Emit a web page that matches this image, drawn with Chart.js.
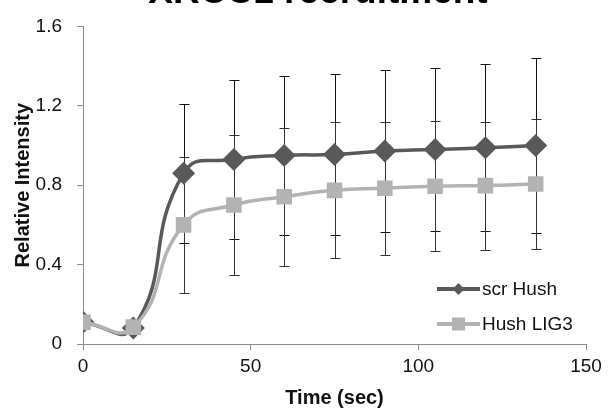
<!DOCTYPE html>
<html>
<head>
<meta charset="utf-8">
<script src="https://cdn.jsdelivr.net/npm/chart.js@4/dist/chart.umd.min.js"></script>
<style>
  html, body { margin: 0; padding: 0; background: #ffffff; }
  #wrap { width: 608px; height: 411px; position: relative; }
</style>
</head>
<body>
<div id="wrap"><canvas id="c" width="608" height="411"></canvas></div>
<script>
// Time points (sec)
const timePoints = [0, 15, 30, 45, 60, 75, 90, 105, 120, 135];

// Mean relative intensity per series
const scrHush = [0.11, 0.08, 0.86, 0.93, 0.95, 0.955, 0.972, 0.98, 0.989, 1.00];
const hushLig3 = [0.11, 0.085, 0.60, 0.70, 0.742, 0.774, 0.785, 0.795, 0.798, 0.806];

// Error (± SD) per series
const scrHushErr = [0.0, 0.0, 0.35, 0.40, 0.40, 0.405, 0.41, 0.41, 0.42, 0.44];
const hushLig3Err = [0.0, 0.0, 0.342, 0.352, 0.347, 0.343, 0.335, 0.328, 0.322, 0.328];

const yTicks = [0, 0.4, 0.8, 1.2, 1.6];
const xTicks = [0, 50, 100, 150];

const seriesNames = ['scr Hush', 'Hush LIG3'];
const titleText = 'XRCC1 recruitment';
const xTitle = 'Time (sec)';
const yTitle = 'Relative Intensity';

const DARK = '#595959';
const LIGHT = '#b3b3b3';

function toPoints(xs, ys) {
  return xs.map((x, i) => ({ x: x, y: ys[i] }));
}

// Vertical error bars with caps, drawn from the data arrays through the scales
const errorBars = {
  id: 'errorBars',
  beforeDatasetsDraw(chart) {
    const { ctx, scales: { x, y } } = chart;
    const sets = [
      { means: scrHush, errs: scrHushErr, color: '#111111' },
      { means: hushLig3, errs: hushLig3Err, color: '#333333' }
    ];
    ctx.save();
    ctx.lineWidth = 1;
    sets.forEach(s => {
      ctx.strokeStyle = s.color;
      timePoints.forEach((t, i) => {
        const e = s.errs[i];
        if (!e) return;
        const px = Math.round(x.getPixelForValue(t)) + 0.5;
        const top = Math.round(y.getPixelForValue(s.means[i] + e)) + 0.5;
        const bot = Math.round(y.getPixelForValue(s.means[i] - e)) + 0.5;
        ctx.beginPath();
        ctx.moveTo(px, top); ctx.lineTo(px, bot);
        ctx.moveTo(px - 5, top); ctx.lineTo(px + 5, top);
        ctx.moveTo(px - 5, bot); ctx.lineTo(px + 5, bot);
        ctx.stroke();
      });
    });
    ctx.restore();
  }
};

// Chart title, set high so it runs off the top edge
const topTitle = {
  id: 'topTitle',
  afterDraw(chart) {
    const { ctx, chartArea } = chart;
    ctx.save();
    ctx.font = 'bold 37px "Liberation Sans", Arial, sans-serif';
    ctx.fillStyle = '#000000';
    ctx.textAlign = 'center';
    ctx.textBaseline = 'alphabetic';
    ctx.fillText(titleText, chartArea.left + 235, 3);
    ctx.restore();
  }
};

// Legend placed inside the plot, lower right
const insideLegend = {
  id: 'insideLegend',
  afterDraw(chart) {
    const { ctx, chartArea } = chart;
    const items = [
      { label: seriesNames[0], color: DARK, marker: 'diamond' },
      { label: seriesNames[1], color: LIGHT, marker: 'square' }
    ];
    const x0 = chartArea.right - 149;
    let yc = chartArea.bottom - 55;
    ctx.save();
    ctx.font = '19px "Liberation Sans", Arial, sans-serif';
    ctx.textBaseline = 'middle';
    items.forEach(it => {
      ctx.strokeStyle = it.color;
      ctx.lineWidth = 4;
      ctx.beginPath();
      ctx.moveTo(x0, yc); ctx.lineTo(x0 + 43, yc);
      ctx.stroke();
      ctx.fillStyle = it.color;
      const mx = x0 + 21.5;
      if (it.marker === 'diamond') {
        ctx.beginPath();
        ctx.moveTo(mx, yc - 6); ctx.lineTo(mx + 6, yc);
        ctx.lineTo(mx, yc + 6); ctx.lineTo(mx - 6, yc);
        ctx.closePath(); ctx.fill();
      } else {
        ctx.fillRect(mx - 6.5, yc - 6.5, 13, 13);
      }
      ctx.fillStyle = '#111111';
      ctx.fillText(it.label, x0 + 45, yc + 1);
      yc += 35;
    });
    ctx.restore();
  }
};

new Chart(document.getElementById('c'), {
  type: 'line',
  data: {
    datasets: [
      {
        label: seriesNames[1],
        data: toPoints(timePoints, hushLig3),
        borderColor: LIGHT,
        backgroundColor: LIGHT,
        borderWidth: 3.5,
        pointStyle: 'rect',
        pointRadius: 11,
        pointBorderWidth: 0,
        tension: 0.5
      },
      {
        label: seriesNames[0],
        data: toPoints(timePoints, scrHush),
        borderColor: DARK,
        backgroundColor: DARK,
        borderWidth: 3.5,
        pointStyle: 'rectRot',
        pointRadius: 11.5,
        pointBorderWidth: 0,
        tension: 0.5
      }
    ]
  },
  options: {
    responsive: false,
    animation: false,
    devicePixelRatio: 1,
    layout: { padding: { top: 23, right: 22, left: 0, bottom: 0 } },
    plugins: {
      legend: { display: false },
      title: { display: false },
      tooltip: { enabled: false }
    },
    scales: {
      x: {
        type: 'linear',
        min: 0, max: 150,
        afterBuildTicks(axis) { axis.ticks = xTicks.map(v => ({ value: v })); },
        afterFit(axis) { axis.height = 67; },
        border: { display: true, color: '#8c8c8c', width: 1 },
        grid: { display: true, drawOnChartArea: false, drawTicks: true, tickLength: 6, color: '#8c8c8c' },
        ticks: {
          color: '#111111',
          padding: 5,
          maxRotation: 0,
          font: { family: '"Liberation Sans", Arial, sans-serif', size: 19 }
        },
        title: {
          display: true,
          text: xTitle,
          color: '#111111',
          padding: { top: 0, bottom: 1 },
          font: { family: '"Liberation Sans", Arial, sans-serif', size: 20, weight: 'bold' }
        }
      },
      y: {
        type: 'linear',
        min: 0, max: 1.6,
        afterBuildTicks(axis) { axis.ticks = yTicks.map(v => ({ value: v })); },
        afterFit(axis) { axis.width = 83; },
        border: { display: true, color: '#8c8c8c', width: 1 },
        grid: { display: true, drawOnChartArea: false, drawTicks: true, tickLength: 6, color: '#8c8c8c' },
        ticks: {
          color: '#111111',
          padding: 15,
          callback: v => String(v),
          font: { family: '"Liberation Sans", Arial, sans-serif', size: 19 }
        },
        title: {
          display: true,
          text: yTitle,
          color: '#111111',
          padding: { top: 11, bottom: 0 },
          font: { family: '"Liberation Sans", Arial, sans-serif', size: 20, weight: 'bold' }
        }
      }
    }
  },
  plugins: [errorBars, topTitle, insideLegend]
});
</script>
</body>
</html>
